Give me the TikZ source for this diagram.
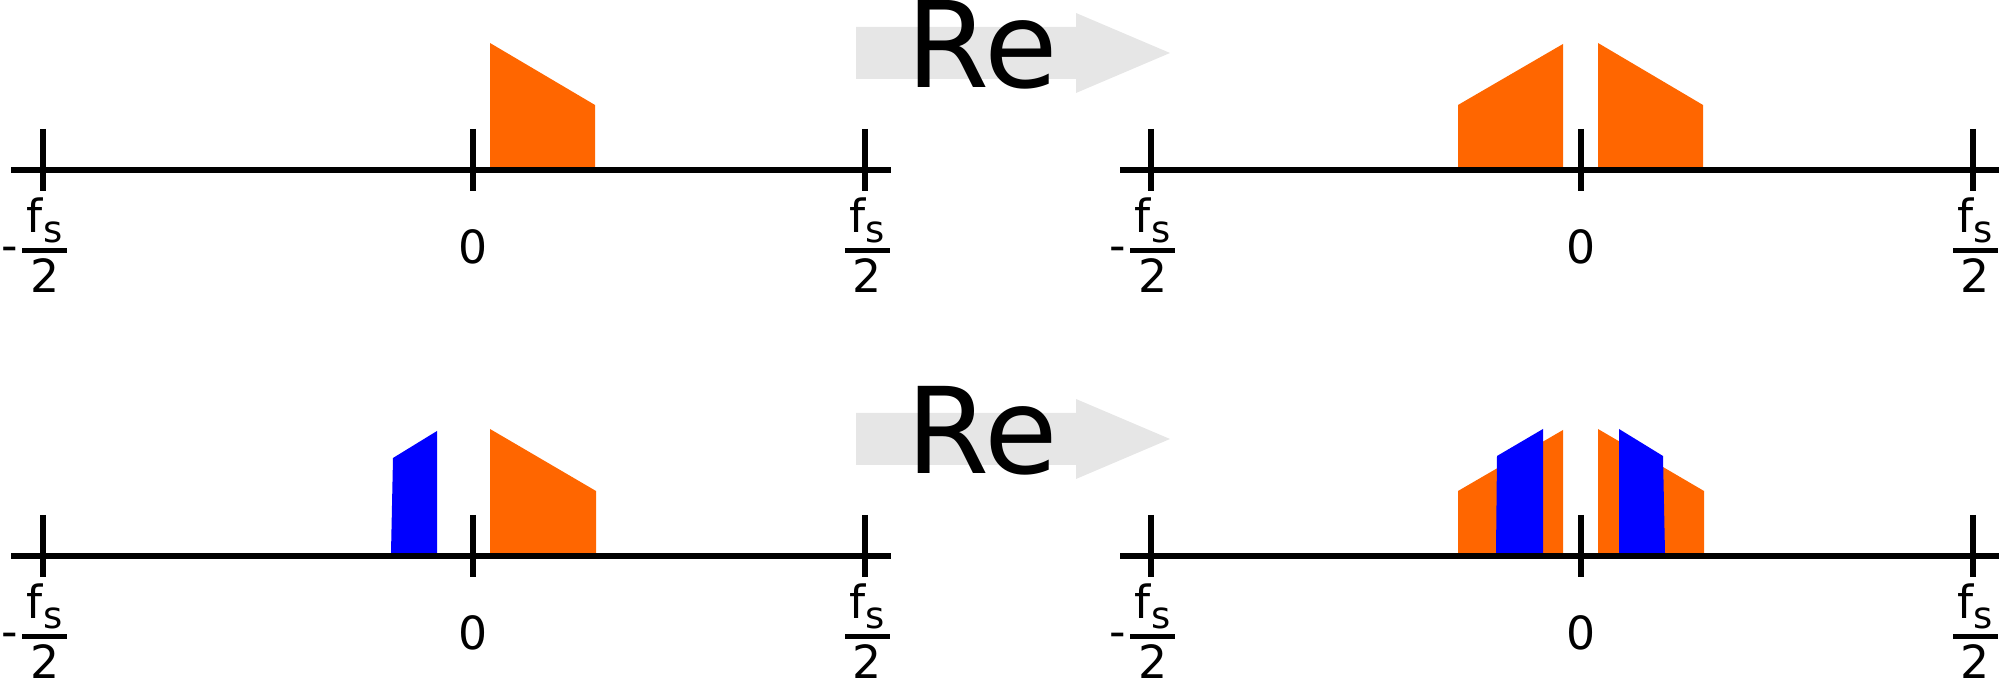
\documentclass[tikz,border=0pt]{standalone}
\usepackage{amsmath}
\usepackage{fontspec}
\setmainfont{DejaVu Sans}
\usetikzlibrary{positioning}

\definecolor{specorange}{HTML}{FF6600}
\definecolor{specblue}{HTML}{0000FF}
\definecolor{arrowgrey}{HTML}{E6E6E6}

\newcommand{\fsnum}{\makebox[12.8pt]{f\raisebox{-2.8pt}{\fontsize{10.5pt}{12pt}\selectfont s}}}
\newcommand{\halffs}{$\genfrac{}{}{1.5pt}{1}{\mbox{\fsnum}}{\mbox{2}}$}

\begin{document}
\begin{tikzpicture}[
    x=0.01cm, y=-0.01cm,
    axis/.style={line width=1.6pt},
    tick/.style={line width=1.6pt},
    band/.style={fill=specorange},
    image/.style={fill=specblue},
    bigarrow/.style={fill=arrowgrey},
    lbl/.style={inner sep=0pt, font=\fontsize{13pt}{15pt}\selectfont},
    op/.style={inner sep=0pt, font=\fontsize{34pt}{40pt}\selectfont}
]
\useasboundingbox (0,0) rectangle (1999,683);

% top row: complex signal
\draw[axis] (11,170) -- (891,170);
\foreach \x in {43,473,865} \draw[tick] (\x,129) -- (\x,191);
\fill[band] (490,167) -- (490,43) -- (595,105) -- (595,167) -- cycle;
\node[lbl, anchor=base east] (mfsA) at (72,261.4) {-\halffs};
\node[lbl, anchor=base] (zeroA) at (473,264) {0};
\node[lbl, anchor=base] (pfsA) at (867.5,261.4) {\halffs};

\fill[bigarrow] (856,27) -- (1076,27) -- (1076,13) -- (1170,53) -- (1076,93) -- (1076,79) -- (856,79) -- cycle;
\node[op, anchor=base] (reA) at (982,88) {Re};

% top row: real part
\draw[axis] (1120,170) -- (2010,170);
\foreach \x in {1151,1581,1973} \draw[tick] (\x,129) -- (\x,191);
\fill[band] (1458,167) -- (1458,105) -- (1563,44) -- (1563,167) -- cycle;
\fill[band] (1598,167) -- (1598,43) -- (1703,105) -- (1703,167) -- cycle;
\node[lbl, anchor=base east] (mfsB) at (1180,261.4) {-\halffs};
\node[lbl, anchor=base] (zeroB) at (1581,264) {0};
\node[lbl, anchor=base] (pfsB) at (1975.5,261.4) {\halffs};

% bottom row: signal with image
\draw[axis] (11,556) -- (891,556);
\foreach \x in {43,473,865} \draw[tick] (\x,515) -- (\x,577);
\fill[band] (490,553) -- (490,429) -- (596,491) -- (596,553) -- cycle;
\fill[image] (391,553) -- (393,458) -- (437,431) -- (437,553) -- cycle;
\node[lbl, anchor=base east] (mfsC) at (72,647.4) {-\halffs};
\node[lbl, anchor=base] (zeroC) at (473,650) {0};
\node[lbl, anchor=base] (pfsC) at (867.5,647.4) {\halffs};

\fill[bigarrow] (856,413) -- (1076,413) -- (1076,399) -- (1170,439) -- (1076,479) -- (1076,465) -- (856,465) -- cycle;
\node[op, anchor=base] (reB) at (982,474) {Re};

% bottom row: real part
\draw[axis] (1120,556) -- (2010,556);
\foreach \x in {1151,1581,1973} \draw[tick] (\x,515) -- (\x,577);
\fill[band] (1458,553) -- (1458,491) -- (1563,430) -- (1563,553) -- cycle;
\fill[band] (1598,553) -- (1598,429) -- (1704,491) -- (1704,553) -- cycle;
\fill[image] (1496,553) -- (1497,456) -- (1543,429) -- (1543,553) -- cycle;
\fill[image] (1619,553) -- (1619,429) -- (1663,456) -- (1665,553) -- cycle;
\node[lbl, anchor=base east] (mfsD) at (1180,647.4) {-\halffs};
\node[lbl, anchor=base] (zeroD) at (1581,650) {0};
\node[lbl, anchor=base] (pfsD) at (1975.5,647.4) {\halffs};
\end{tikzpicture}
\end{document}
